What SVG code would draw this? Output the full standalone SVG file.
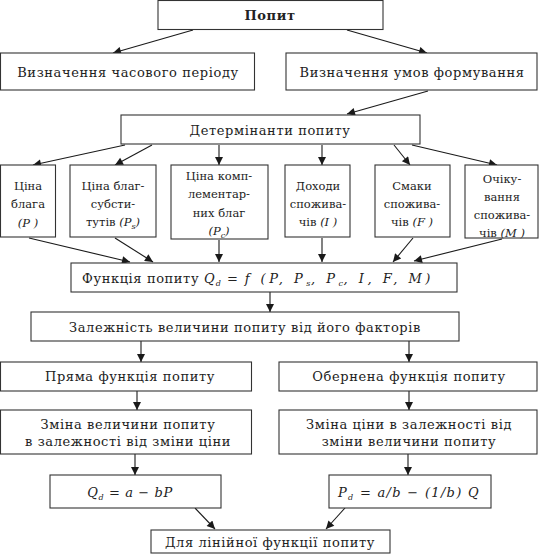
<svg xmlns="http://www.w3.org/2000/svg" width="540" height="555" viewBox="0 0 540 555">
<defs>
<marker id="ah" viewBox="0 0 10 10" refX="10" refY="5" markerWidth="10" markerHeight="8" markerUnits="userSpaceOnUse" orient="auto">
<path d="M0,0 L10,5 L0,10 z" fill="#1a1a1a"/>
</marker>
<style>
rect{fill:#fff;stroke:#333;stroke-width:1.1}
text{font-family:"DejaVu Serif","Liberation Serif",serif;font-size:13px;fill:#222;text-anchor:middle;letter-spacing:0.6px}
.sm{font-size:11.5px;letter-spacing:0px}
.b{font-weight:bold}
.i{font-style:italic}
.s{font-size:8px;font-style:italic}
.w{letter-spacing:3.5px}
.w1{letter-spacing:1.3px}
.st{text-anchor:start}
#conn line{stroke:#1a1a1a;stroke-width:1.1;marker-end:url(#ah)}
</style>
</defs>
<rect width="540" height="555" style="fill:#fff;stroke:none"/>
<g id="conn">
<line x1="193" y1="30" x2="113" y2="53"/>
<line x1="347" y1="30" x2="427" y2="53"/>
<line x1="428" y1="91" x2="347" y2="114"/>
<line x1="125" y1="145" x2="33" y2="165"/>
<line x1="152" y1="145" x2="115" y2="165"/>
<line x1="219" y1="145" x2="219" y2="165"/>
<line x1="322" y1="145" x2="322" y2="165"/>
<line x1="394" y1="145" x2="410" y2="165"/>
<line x1="412" y1="145" x2="497" y2="165"/>
<line x1="29" y1="238" x2="130" y2="262"/>
<line x1="115" y1="238" x2="153" y2="262"/>
<line x1="219" y1="240" x2="219" y2="262"/>
<line x1="322" y1="238" x2="322" y2="262"/>
<line x1="413" y1="238" x2="393" y2="262"/>
<line x1="502" y1="239" x2="414" y2="261"/>
<line x1="270" y1="292" x2="270" y2="312"/>
<line x1="141" y1="341" x2="141" y2="362"/>
<line x1="409" y1="341" x2="409" y2="362"/>
<line x1="137" y1="391" x2="137" y2="410"/>
<line x1="409" y1="391" x2="409" y2="410"/>
<line x1="135" y1="454" x2="135" y2="475"/>
<line x1="408" y1="454" x2="408" y2="475"/>
<line x1="195" y1="508" x2="215" y2="529"/>
<line x1="345" y1="508" x2="326" y2="529"/>
</g>
<g id="popyt"><rect x="158" y="0.5" width="225" height="29"/><text x="270" y="20" class="b">Попит</text></g>
<g id="period"><rect x="0.5" y="53" width="254" height="37"/><text x="128" y="77">Визначення часового періоду</text></g>
<g id="umovy"><rect x="286" y="53" width="251" height="37"/><text x="412" y="77">Визначення умов формування</text></g>
<g id="determ"><rect x="121" y="115" width="299" height="29"/><text x="270" y="135">Детермінанти попиту</text></g>
<g id="d1"><rect x="0.5" y="165" width="55" height="72"/>
<text class="sm" x="28" y="190">Ціна</text><text class="sm" x="28" y="208">блага</text><text x="28" y="227" class="sm i">(P )</text></g>
<g id="d2"><rect x="70" y="165" width="86" height="72"/>
<text class="sm" x="113" y="190">Ціна благ-</text><text class="sm" x="113" y="208">субсти-</text><text class="sm" x="113" y="226">тутів <tspan class="i">(P</tspan><tspan class="s" dy="3">s</tspan><tspan class="i" dy="-3">)</tspan></text></g>
<g id="d3"><rect x="171" y="165" width="97" height="74"/>
<text class="sm" x="219" y="180">Ціна комп-</text><text class="sm" x="219" y="198">лементар-</text><text class="sm" x="219" y="217">них благ</text><text x="219" y="235" class="sm i">(P<tspan class="s" dy="3">c</tspan><tspan dy="-3">)</tspan></text></g>
<g id="d4"><rect x="285" y="165" width="65" height="72"/>
<text class="sm" x="318" y="190">Доходи</text><text class="sm" x="318" y="208">спожива-</text><text class="sm" x="318" y="226">чів <tspan class="i">(I )</tspan></text></g>
<g id="d5"><rect x="375" y="165" width="75" height="72"/>
<text class="sm" x="412" y="190">Смаки</text><text class="sm" x="412" y="208">спожива-</text><text class="sm" x="412" y="226">чів <tspan class="i">(F )</tspan></text></g>
<g id="d6"><rect x="465" y="165" width="73" height="73"/>
<text class="sm" x="502" y="183">Очіку-</text><text class="sm" x="502" y="201">вання</text><text class="sm" x="502" y="219">спожива-</text><text class="sm" x="502" y="237">чів <tspan class="i">(M )</tspan></text></g>
<g id="func"><rect x="71" y="263" width="386" height="29"/>
<text class="st" x="82" y="283">Функція попиту <tspan class="i w1">Q</tspan><tspan class="s" dy="3">d</tspan><tspan class="w1" dy="-3"> = </tspan><tspan class="i w">f (P, P</tspan><tspan class="s" dy="3">s</tspan><tspan class="i w" dy="-3">, P</tspan><tspan class="s" dy="3">c</tspan><tspan class="i w" dy="-3">, I, F, M)</tspan></text></g>
<g id="zalezh"><rect x="31" y="312" width="428" height="29"/><text x="245" y="332">Залежність величини попиту від його факторів</text></g>
<g id="pryama"><rect x="0.5" y="362" width="251" height="29"/><text x="130" y="381">Пряма функція попиту</text></g>
<g id="obern"><rect x="279" y="362" width="258" height="29"/><text x="409" y="381">Обернена функція попиту</text></g>
<g id="zmina1"><rect x="0.5" y="410" width="251" height="44"/><text x="128" y="429">Зміна величини попиту</text><text x="128" y="446">в залежності від зміни ціни</text></g>
<g id="zmina2"><rect x="279" y="410" width="258" height="44"/><text x="409" y="429">Зміна ціни в залежності від</text><text x="409" y="446">зміни величини попиту</text></g>
<g id="qd"><rect x="50" y="475" width="171" height="33"/>
<text x="130" y="497" class="i">Q<tspan class="s" dy="3">d</tspan><tspan dy="-3" style="font-style:normal"> = </tspan>a − bP</text></g>
<g id="pd"><rect x="329" y="475" width="162" height="33"/>
<text x="409" y="497" class="i w1">P<tspan class="s" dy="3">d</tspan><tspan dy="-3" style="font-style:normal"> = </tspan>a/b − (1/b) Q</text></g>
<g id="lin"><rect x="151" y="530" width="239" height="23"/><text x="270" y="547">Для лінійної функції попиту</text></g>
</svg>
